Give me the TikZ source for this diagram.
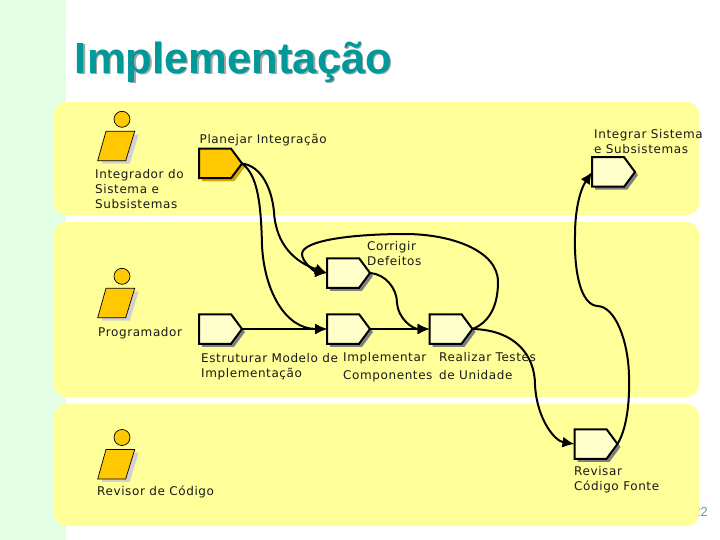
\documentclass[tikz,border=0pt]{standalone}
\usepackage{fontspec}
\usetikzlibrary{shapes.symbols,shadows,arrows.meta}
\setmainfont{DejaVu Sans}[LetterSpace=5]
\newfontfamily\titlefont{Liberation Sans}[BoldFont={Liberation Sans Bold}]
\definecolor{bandcol}{HTML}{FFFF99}
\definecolor{stripcol}{HTML}{E3FFE3}
\definecolor{actfill}{HTML}{FFFFCC}
\definecolor{orangecol}{HTML}{FFC800}
\definecolor{teal1}{HTML}{009999}
\definecolor{pagecol}{HTML}{5AA0B4}
\tikzset{
  x=1pt,y=-1pt,
  band/.style={fill=bandcol,rounded corners=12pt},
  activity/.style={shape=signal,signal to=east,signal pointer angle=107,draw=black,line width=2pt,
    fill=actfill,minimum width=43pt,minimum height=29.5pt,inner sep=0pt,outer sep=0pt,anchor=west,
    general shadow={shadow xshift=3pt,shadow yshift=-3pt,fill=black!50}},
  lead/.style={activity,fill=orangecol,general shadow={shadow xshift=3pt,shadow yshift=-3pt,fill=orangecol!85!black}},
  flow/.style={line width=2pt,draw=black,-{Latex[length=12pt,width=11pt]}},
  lbl/.style={font=\fontsize{12}{15}\selectfont,align=left,inner sep=0pt,anchor=north west,text=black!90},
  body/.style={fill=orangecol,draw=black,line width=0.7pt},
  head/.style={shape=circle,fill=orangecol,draw=black,line width=0.7pt,minimum size=16pt,inner sep=0pt},
  bodyshadow/.style={fill=black!18},
}
\newcommand{\actorfig}[3]{%
  \fill[bodyshadow] (#1-24.3+4,#2+41.4+3) -- (#1-16+4,#2+12+3) -- (#1+12.7+4,#2+12+3) -- (#1+3.7+4,#2+41.4+3) -- cycle;
  \node[head] (#3h) at (#1,#2) {};
  \draw[body] (#1-24.3,#2+41.4) -- (#1-16,#2+12) -- (#1+12.7,#2+12) -- (#1+3.7,#2+41.4) -- cycle;
}
\begin{document}
\begin{tikzpicture}
\useasboundingbox (0,0) rectangle (720,540);
\fill[white] (0,0) rectangle (720,540);
\fill[stripcol] (0,0) rectangle (66,540);
\node[inner sep=0pt,anchor=base east,text=pagecol,font=\fontsize{13}{15}\selectfont\titlefont] (pg) at (708,516) {22};
\fill[band] (54,102) rectangle (699,215);
\fill[band] (54,222) rectangle (699,397);
\fill[band] (54,404) rectangle (699,526);
% title
\node[inner sep=0pt,anchor=base west,text=black!35,font=\fontsize{43.6}{50}\selectfont\titlefont\bfseries] (titleshadow) at (76,75) {Implementação};
\node[inner sep=0pt,anchor=base west,text=teal1,font=\fontsize{43.6}{50}\selectfont\titlefont\bfseries] (title) at (74.7,73.7) {Implementação};
% actors
\actorfig{122}{119.3}{A}
\actorfig{122}{276.3}{B}
\actorfig{122}{437.5}{C}
% activities
\node[lead] (plan) at (199,163.5) {};
\node[activity] (integ) at (592,172) {};
\node[activity] (corr) at (327,273) {};
\node[activity] (estr) at (199,329) {};
\node[activity] (impl) at (327,329) {};
\node[activity] (real) at (429.5,329) {};
\node[activity] (rev) at (574.5,444) {};
% connectors
\draw[flow] (plan.east) .. controls (262,166) and (272,190) .. (274,212) .. controls (276,245) and (295,262) .. (corr.west);
\draw[flow] (plan.east) .. controls (258,175) and (261,205) .. (262,245) .. controls (264,290) and (285,329) .. (impl.west);
\draw[flow] (estr.east) -- (impl.west);
\draw[flow] (impl.east) -- (real.west);
\draw[flow] (corr.east) .. controls (385,274) and (397,288) .. (397,303) .. controls (398,318) and (412,329) .. (real.west);
\draw[flow] (real.east) .. controls (490,322) and (498,305) .. (498,282) .. controls (498,250) and (450,234) .. (405,234) .. controls (355,234) and (302,240) .. (302,254) .. controls (302,262) and (315,272) .. (corr.west);
\draw[flow] (real.east) .. controls (515,330) and (535,355) .. (535,385) .. controls (537,420) and (555,441) .. (rev.west);
\draw[flow] (rev.east) .. controls (626,430) and (630,405) .. (629,375) .. controls (628,340) and (615,306) .. (597,306) .. controls (580,304) and (574,270) .. (575,235) .. controls (575,210) and (580,190) .. (integ.west);
% labels
\node[lbl] (l1) at (199.5,134) {Planejar Integração};
\node[lbl] (l2) at (594,129) {Integrar Sistema\\e Subsistemas};
\node[lbl] (l3) at (95,169) {Integrador do\\Sistema e\\Subsistemas};
\node[lbl] (l4) at (367,241.5) {Corrigir\\Defeitos};
\node[lbl] (l5) at (98,327) {Programador};
\node[lbl] (l6) at (201,353) {Estruturar Modelo de\\Implementação};
\node[lbl] (l7) at (343,352) {Implementar\\[3pt]Componentes};
\node[lbl] (l8) at (439,352) {Realizar Testes\\[3pt]de Unidade};
\node[lbl] (l9) at (574,466) {Revisar\\Código Fonte};
\node[lbl] (l10) at (97,485.5) {Revisor de Código};
\end{tikzpicture}
\end{document}
